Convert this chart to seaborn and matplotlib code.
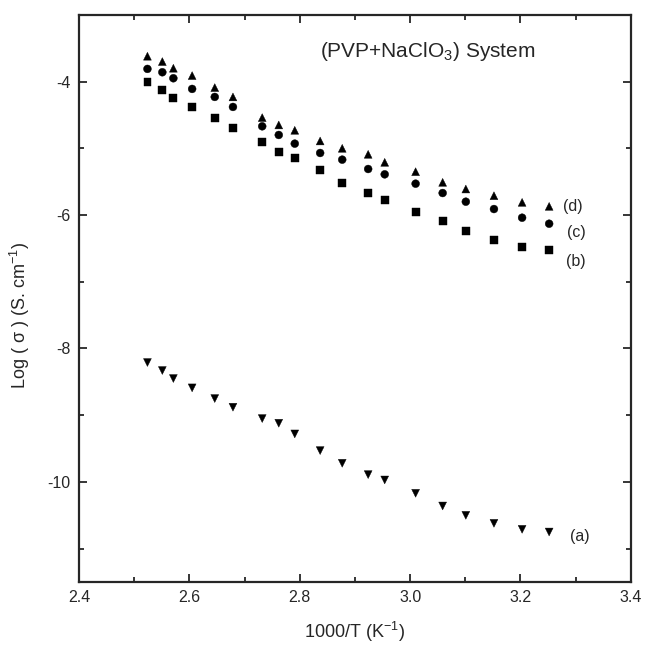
import matplotlib.pyplot as plt
import numpy as np
import pandas as pd
import seaborn as sns
from matplotlib.ticker import MultipleLocator

# 1000/T values (K^-1), shared by all four samples
INV_T = [2.524, 2.551, 2.571, 2.605, 2.646, 2.679, 2.732, 2.762, 2.791, 2.837,
         2.877, 2.924, 2.954, 3.010, 3.059, 3.101, 3.152, 3.203, 3.252]

LOG_SIGMA_A = [-8.21, -8.33, -8.45, -8.59, -8.75, -8.88, -9.05, -9.12, -9.28, -9.53,
               -9.72, -9.89, -9.97, -10.17, -10.36, -10.50, -10.62, -10.71, -10.75]
LOG_SIGMA_B = [-4.01, -4.13, -4.25, -4.38, -4.55, -4.69, -4.91, -5.05, -5.14, -5.33,
               -5.52, -5.67, -5.78, -5.96, -6.09, -6.24, -6.38, -6.48, -6.52]
LOG_SIGMA_C = [-3.81, -3.86, -3.95, -4.11, -4.23, -4.38, -4.67, -4.80, -4.93, -5.07,
               -5.17, -5.31, -5.39, -5.53, -5.67, -5.80, -5.91, -6.04, -6.13]
LOG_SIGMA_D = [-3.62, -3.70, -3.80, -3.91, -4.09, -4.23, -4.54, -4.65, -4.73, -4.89,
               -5.00, -5.09, -5.21, -5.35, -5.51, -5.61, -5.71, -5.81, -5.87]

SERIES = {"(a)": LOG_SIGMA_A, "(b)": LOG_SIGMA_B, "(c)": LOG_SIGMA_C, "(d)": LOG_SIGMA_D}
MARKERS = {"(a)": "v", "(b)": "s", "(c)": "o", "(d)": "^"}
LABEL_POS = {"(a)": (3.29, -10.81), "(b)": (3.282, -6.70),
             "(c)": (3.284, -6.26), "(d)": (3.277, -5.87)}

sns.set_style("ticks")
plt.rcParams["font.family"] = ["Liberation Sans", "DejaVu Sans"]
plt.rcParams["mathtext.fontset"] = "custom"
plt.rcParams["mathtext.rm"] = "Liberation Sans"
plt.rcParams["mathtext.it"] = "Liberation Sans:italic"
plt.rcParams["mathtext.bf"] = "Liberation Sans:bold"

df = pd.DataFrame([
    {"inv_t": x, "log_sigma": y, "sample": name}
    for name, vals in SERIES.items() for x, y in zip(INV_T, vals)
])

fig = plt.figure(figsize=(6.45, 6.46), dpi=100)
ax = fig.add_axes([0.1225, 0.099, 0.8555, 0.878])

sns.scatterplot(data=df, x="inv_t", y="log_sigma", style="sample", markers=MARKERS,
                hue="sample", palette={k: "black" for k in SERIES},
                s=32, edgecolor="black", linewidth=0.3, legend=False, ax=ax)

for name, (lx, ly) in LABEL_POS.items():
    ax.text(lx, ly, name, fontsize=11.5, va="center", ha="left")

ax.text(2.837, -3.55, "(PVP+NaClO$\\mathregular{_3}$) System", fontsize=15,
        va="center", ha="left")

ax.set_xlim(2.4, 3.4)
ax.set_ylim(-11.5, -3)
ax.xaxis.set_major_locator(MultipleLocator(0.2))
ax.xaxis.set_minor_locator(MultipleLocator(0.1))
ax.yaxis.set_major_locator(MultipleLocator(2))
ax.yaxis.set_minor_locator(MultipleLocator(1))
ax.xaxis.set_major_formatter(plt.FuncFormatter(lambda v, p: f"{v:.1f}"))
ax.yaxis.set_major_formatter(plt.FuncFormatter(lambda v, p: f"{v:.0f}".replace("\u2212", "-")))

ax.tick_params(which="both", direction="in", top=True, right=True,
               labelsize=11.5, width=1.3, pad=6)
ax.tick_params(which="major", length=6)
ax.tick_params(which="minor", length=3.5)
for sp in ax.spines.values():
    sp.set_visible(True)
    sp.set_linewidth(1.6)

ax.set_xlabel("1000/T (K$\\mathregular{^{-1}}$)", fontsize=13)
ax.set_ylabel("Log ( σ ) (S. cm$\\mathregular{^{-1}}$)", fontsize=13)
ax.yaxis.set_label_coords(-0.085, 0.47)
ax.xaxis.set_label_coords(0.5, -0.066)

fig.savefig("out.png", dpi=100)
